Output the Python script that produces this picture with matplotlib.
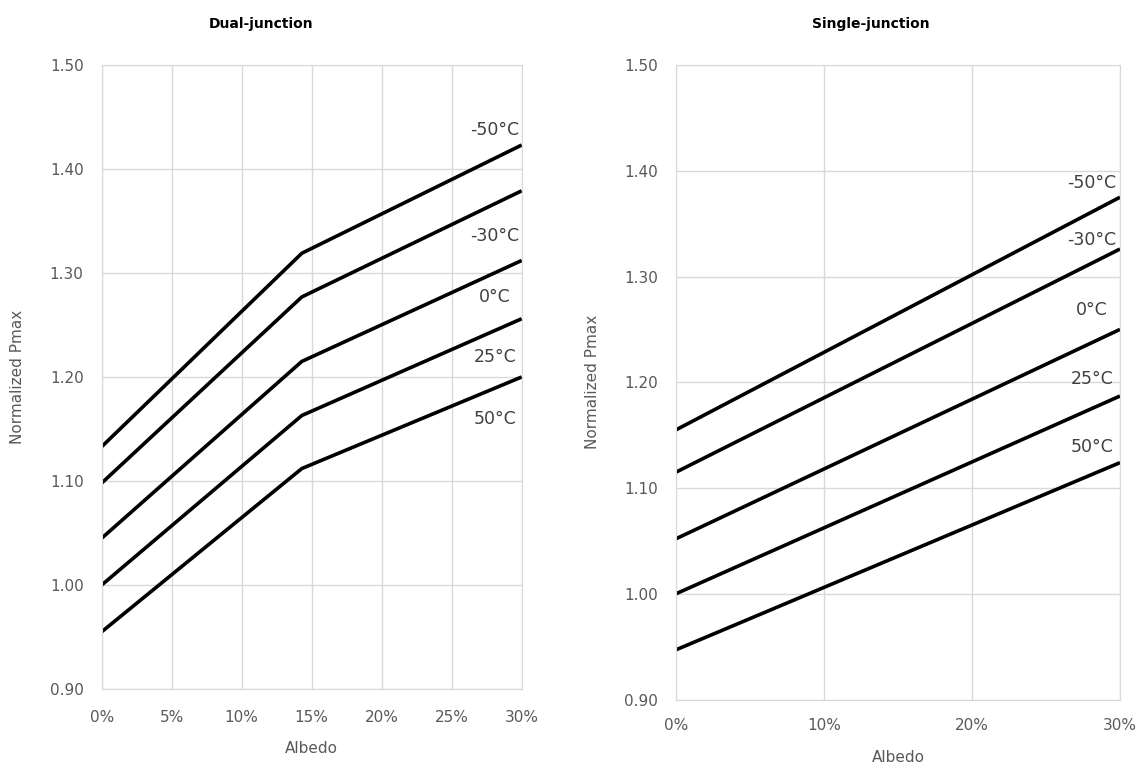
import matplotlib.pyplot as plt
from matplotlib.ticker import FuncFormatter

# Dual-junction: piecewise linear with a kink near 14%
dual_albedo = [0, 14.3, 30]
dual_series = {
    "-50°C": [1.133, 1.319, 1.423],
    "-30°C": [1.098, 1.277, 1.379],
    "0°C": [1.045, 1.215, 1.312],
    "25°C": [1.000, 1.163, 1.256],
    "50°C": [0.955, 1.112, 1.200],
}
dual_label_y = [1.437, 1.336, 1.277, 1.219, 1.160]

# Single-junction: straight lines
single_albedo = [0, 30]
single_series = {
    "-50°C": [1.155, 1.375],
    "-30°C": [1.115, 1.326],
    "0°C": [1.052, 1.250],
    "25°C": [1.000, 1.187],
    "50°C": [0.947, 1.124],
}
single_label_y = [1.388, 1.335, 1.268, 1.203, 1.139]

dual_xticks = [0, 5, 10, 15, 20, 25, 30]
single_xticks = [0, 10, 20, 30]
yticks = [0.90, 1.00, 1.10, 1.20, 1.30, 1.40, 1.50]

grid_col = '#d9d9d9'
text_col = '#595959'

fig = plt.figure(figsize=(11.39, 7.67), dpi=100)
ax1 = fig.add_axes([0.0893, 0.1017, 0.3687, 0.8136])
ax2 = fig.add_axes([0.5935, 0.088, 0.3898, 0.8272])


def style(ax, xticks, xpad, ylab_x, xlab_y):
    ax.set_xlim(0, 30)
    ax.set_ylim(0.9, 1.5)
    ax.set_xticks(xticks)
    ax.set_yticks(yticks)
    ax.xaxis.set_major_formatter(FuncFormatter(lambda v, p: f'{v:.0f}%'))
    ax.yaxis.set_major_formatter(FuncFormatter(lambda v, p: f'{v:.2f}'))
    ax.grid(True, color=grid_col, linewidth=1)
    ax.set_axisbelow(True)
    for s in ax.spines.values():
        s.set_color(grid_col)
    ax.tick_params(length=0, colors=text_col, labelsize=11)
    ax.tick_params(axis='y', pad=13)
    ax.tick_params(axis='x', pad=xpad)
    ax.set_xlabel('Albedo', color=text_col, fontsize=11)
    ax.set_ylabel('Normalized Pmax', color=text_col, fontsize=11)
    ax.xaxis.set_label_coords(0.5, xlab_y)
    ax.yaxis.set_label_coords(ylab_x, 0.5)


def draw(ax, x, series, label_y):
    for (name, vals), ly in zip(series.items(), label_y):
        ax.plot(x, vals, color='black', linewidth=2.6, solid_capstyle='butt')
        ax.text(28.1, ly, name, ha='center', va='center', fontsize=12.5, color='#404040')


style(ax1, dual_xticks, 15, -0.183, -0.083)
style(ax2, single_xticks, 13, -0.171, -0.08)
draw(ax1, dual_albedo, dual_series, dual_label_y)
draw(ax2, single_albedo, single_series, single_label_y)

fig.text(261 / 1139, 1 - 24 / 767, 'Dual-junction', ha='center', va='center',
         fontsize=10, fontweight='bold')
fig.text(871 / 1139, 1 - 24 / 767, 'Single-junction', ha='center', va='center',
         fontsize=10, fontweight='bold')

fig.savefig('out.png', dpi=100)
